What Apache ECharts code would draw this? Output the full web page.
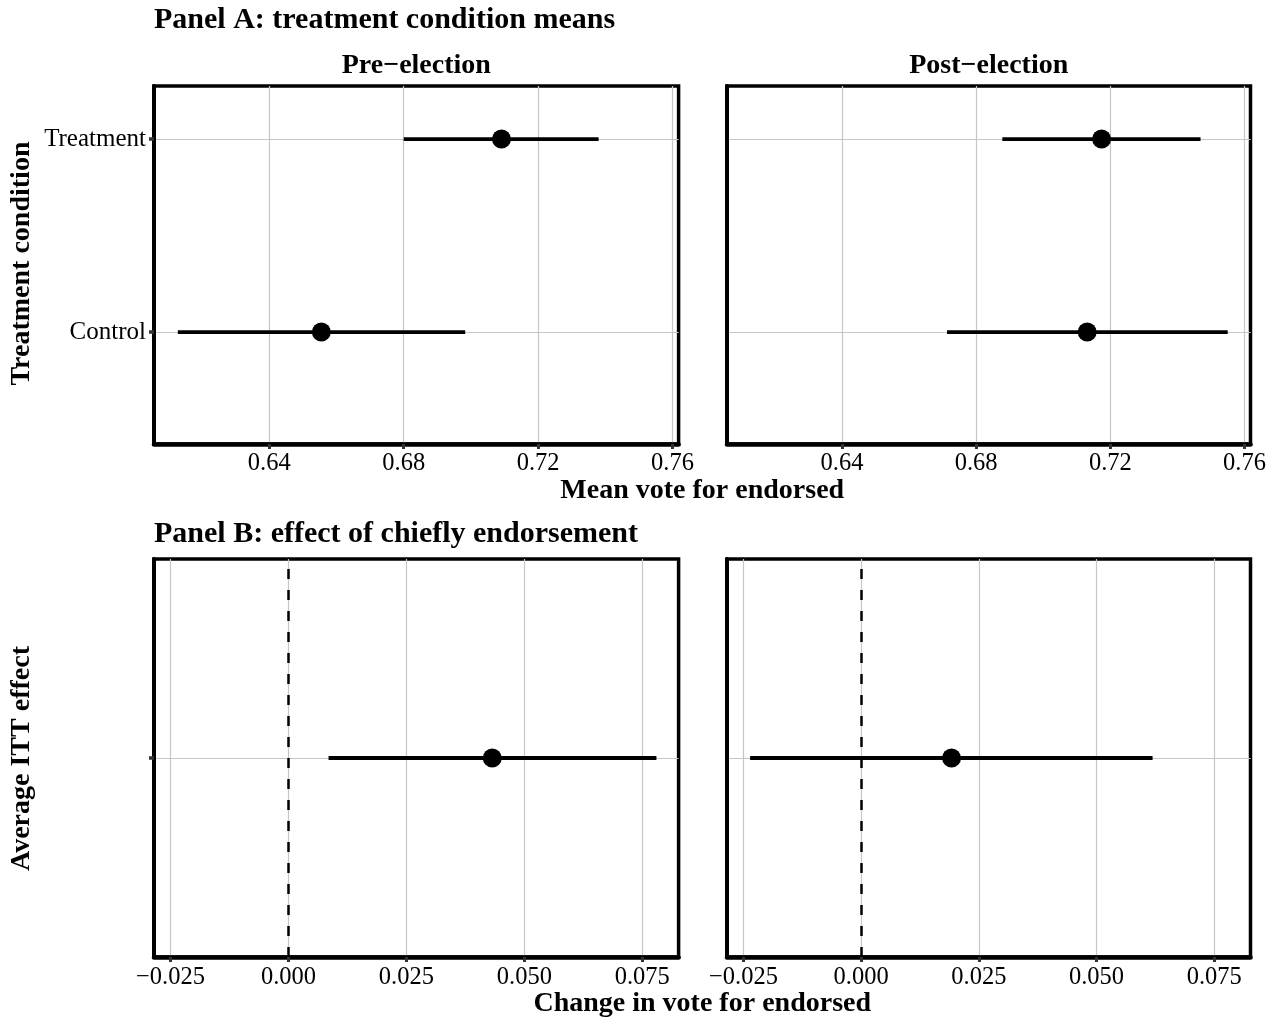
<!DOCTYPE html>
<html>
<head>
<meta charset="utf-8">
<script src="https://cdn.jsdelivr.net/npm/echarts@6/dist/echarts.min.js"></script>
<style>
html,body{margin:0;padding:0;background:#fff;}
#chart{width:1276px;height:1023px;}
</style>
</head>
<body>
<div id="chart"></div>
<script>
// ---- data ----
const conditions = ['Control', 'Treatment'];
const preMean  = [0.6555, 0.7091];
const preLow   = [0.6128, 0.6800];
const preHigh  = [0.6983, 0.7380];
const postMean = [0.7131, 0.7174];
const postLow  = [0.6713, 0.6878];
const postHigh = [0.7550, 0.7469];
const periods  = ['Pre\u2212election', 'Post\u2212election'];
const ittMean  = [0.0432, 0.0192];
const ittLow   = [0.0085, -0.0236];
const ittHigh  = [0.0780, 0.0619];
const ticksA = [0.64, 0.68, 0.72, 0.76];
const ticksB = [-0.025, 0, 0.025, 0.050, 0.075];
const panelTitles = ['Panel A: treatment condition means', 'Panel B: effect of chiefly endorsement'];
const xTitles = ['Mean vote for endorsed', 'Change in vote for endorsed'];
const yTitles = ['Treatment condition', 'Average ITT effect'];

// ---- layout ----
const FONT = 'Liberation Serif';
const chart = echarts.init(document.getElementById('chart'), null, {renderer: 'canvas'});
const colX = [{left: 154, width: 524.6}, {left: 727, width: 523.5}];
const rowY = [{top: 86, height: 358}, {top: 559, height: 398}];

const grids = [];
for (let r = 0; r < 2; r++) for (let c = 0; c < 2; c++) {
  grids.push({left: colX[c].left, width: colX[c].width, top: rowY[r].top, height: rowY[r].height,
    show: true, borderColor: '#000', borderWidth: 3.5, backgroundColor: 'transparent', containLabel: false});
}
const fmtA = v => v.toFixed(2);
const fmtB = v => (v < -1e-9 ? '\u2212' : '') + Math.abs(v).toFixed(3);
const gridLine = {show: true, lineStyle: {color: '#c6c6c6', width: 1.2}};
function xAx(i, ticks, fmt, min, max, margin) {
  return {type: 'value', gridIndex: i, min: min, max: max,
    axisLine: {show: true, onZero: false, lineStyle: {color: '#000', width: 4.5}},
    axisTick: {show: true, length: 5, customValues: ticks, lineStyle: {color: '#333', width: 3}},
    axisLabel: {show: true, customValues: ticks, formatter: fmt, margin: margin, color: '#000',
      fontFamily: FONT, fontSize: 24.5},
    splitLine: gridLine};
}
function yAx(i, ticks, labels, min, max) {
  return {type: 'value', gridIndex: i, min: min, max: max,
    axisLine: {show: true, onZero: false, lineStyle: {color: '#000', width: 4}},
    axisTick: {show: labels !== null || i === 2, length: 5, customValues: ticks, lineStyle: {color: '#333', width: 3.5}},
    axisLabel: {show: labels !== null, customValues: ticks, margin: 8, color: '#000',
      fontFamily: FONT, fontSize: 25,
      formatter: v => labels ? labels[Math.round(v) - 1] : ''},
    splitLine: gridLine};
}
const xAxes = [
  xAx(0, ticksA, fmtA, 0.6057, 0.7618, 7),
  xAx(1, ticksA, fmtA, 0.6057, 0.7618, 7),
  xAx(2, ticksB, fmtB, -0.0285, 0.0827, 8),
  xAx(3, ticksB, fmtB, -0.0285, 0.0827, 8)
];
const yAxes = [
  yAx(0, [1, 2], conditions, 0.42, 2.275),
  yAx(1, [1, 2], null, 0.42, 2.275),
  yAx(2, [1], [''], 0, 2),
  yAx(3, [1], null, 0, 2)
];
yAxes[3].axisTick.show = false;

function barSeries(i, low, high, ys) {
  return {type: 'custom', xAxisIndex: i, yAxisIndex: i, z: 3,
    data: low.map((l, k) => [l, high[k], ys[k]]),
    encode: {x: [0, 1], y: 2},
    renderItem: (params, api) => {
      const a = api.coord([api.value(0), api.value(2)]);
      const b = api.coord([api.value(1), api.value(2)]);
      return {type: 'line', shape: {x1: a[0], y1: a[1], x2: b[0], y2: b[1]},
        style: {stroke: '#000', lineWidth: 3.8, lineCap: 'butt'}};
    }};
}
function ptSeries(i, mean, ys, withZero) {
  const s = {type: 'scatter', xAxisIndex: i, yAxisIndex: i, z: 4, symbol: 'circle', symbolSize: 19,
    itemStyle: {color: '#000', opacity: 1}, data: mean.map((m, k) => [m, ys[k]])};
  if (withZero) {
    s.markLine = {silent: true, symbol: ['none', 'none'], label: {show: false},
      lineStyle: {color: '#000', width: 2.5, type: [10, 11], opacity: 1}, data: [{xAxis: 0}]};
  }
  return s;
}
const ysA = conditions.map((c, k) => k + 1);
const series = [
  barSeries(0, preLow, preHigh, ysA), ptSeries(0, preMean, ysA, false),
  barSeries(1, postLow, postHigh, ysA), ptSeries(1, postMean, ysA, false),
  barSeries(2, [ittLow[0]], [ittHigh[0]], [1]), ptSeries(2, [ittMean[0]], [1], true),
  barSeries(3, [ittLow[1]], [ittHigh[1]], [1]), ptSeries(3, [ittMean[1]], [1], true)
];

function txt(text, x, y, size, align, rot) {
  return {type: 'text', x: x, y: y, rotation: rot || 0, silent: true,
    style: {text: text, fill: '#000', font: 'bold ' + size + 'px "' + FONT + '"',
      textAlign: align, textVerticalAlign: 'middle'}};
}
const cA = colX[0].left + colX[0].width / 2;
const cB = colX[1].left + colX[1].width / 2;
const cAll = (colX[0].left + colX[1].left + colX[1].width) / 2;
const graphics = [
  txt(panelTitles[0], 154, 20, 30, 'left'),
  txt(periods[0], cA, 66, 28, 'center'),
  txt(periods[1], cB, 66, 28, 'center'),
  txt(xTitles[0], cAll, 491, 28, 'center'),
  txt(panelTitles[1], 154, 534, 30, 'left'),
  txt(xTitles[1], cAll, 1004, 28, 'center'),
  txt(yTitles[0], 22, 263.5, 28, 'center', Math.PI / 2),
  txt(yTitles[1], 22, 758.5, 28, 'center', Math.PI / 2)
];

chart.setOption({
  animation: false,
  backgroundColor: '#fff',
  grid: grids,
  xAxis: xAxes,
  yAxis: yAxes,
  series: series,
  graphic: graphics
});
</script>
</body>
</html>
